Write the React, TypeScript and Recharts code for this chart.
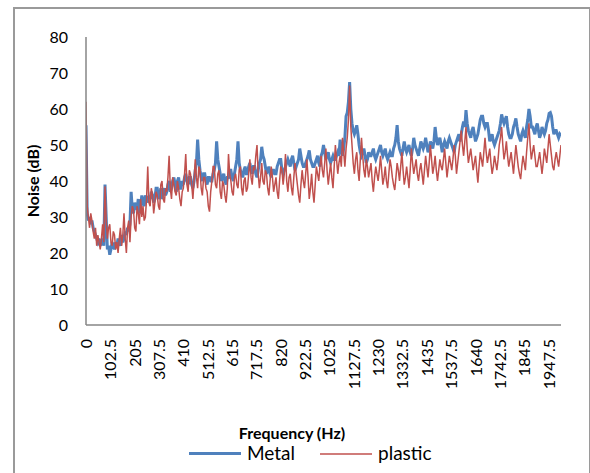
import React from 'react';
import { LineChart, Line, XAxis, YAxis, Legend } from 'recharts';

const FREQ = [
  0, 5, 10, 15, 20, 25, 30, 35, 40, 45, 50, 55, 60, 65, 70, 75, 80, 85, 90, 95,
  100, 105, 110, 115, 120, 125, 130, 135, 140, 145, 150, 155, 160, 165, 170, 175, 180, 185, 190, 195,
  200, 205, 210, 215, 220, 225, 230, 235, 240, 245, 250, 255, 260, 265, 270, 275, 280, 285, 290, 295,
  300, 305, 310, 315, 320, 325, 330, 335, 340, 345, 350, 355, 360, 365, 370, 375, 380, 385, 390, 395,
  400, 405, 410, 415, 420, 425, 430, 435, 440, 445, 450, 455, 460, 465, 470, 475, 480, 485, 490, 495,
  500, 505, 510, 515, 520, 525, 530, 535, 540, 545, 550, 555, 560, 565, 570, 575, 580, 585, 590, 595,
  600, 605, 610, 615, 620, 625, 630, 635, 640, 645, 650, 655, 660, 665, 670, 675, 680, 685, 690, 695,
  700, 705, 710, 715, 720, 725, 730, 735, 740, 745, 750, 755, 760, 765, 770, 775, 780, 785, 790, 795,
  800, 805, 810, 815, 820, 825, 830, 835, 840, 845, 850, 855, 860, 865, 870, 875, 880, 885, 890, 895,
  900, 905, 910, 915, 920, 925, 930, 935, 940, 945, 950, 955, 960, 965, 970, 975, 980, 985, 990, 995,
  1000, 1005, 1010, 1015, 1020, 1025, 1030, 1035, 1040, 1045, 1050, 1055, 1060, 1065, 1070, 1075, 1080, 1085, 1090, 1095,
  1100, 1105, 1110, 1115, 1120, 1125, 1130, 1135, 1140, 1145, 1150, 1155, 1160, 1165, 1170, 1175, 1180, 1185, 1190, 1195,
  1200, 1205, 1210, 1215, 1220, 1225, 1230, 1235, 1240, 1245, 1250, 1255, 1260, 1265, 1270, 1275, 1280, 1285, 1290, 1295,
  1300, 1305, 1310, 1315, 1320, 1325, 1330, 1335, 1340, 1345, 1350, 1355, 1360, 1365, 1370, 1375, 1380, 1385, 1390, 1395,
  1400, 1405, 1410, 1415, 1420, 1425, 1430, 1435, 1440, 1445, 1450, 1455, 1460, 1465, 1470, 1475, 1480, 1485, 1490, 1495,
  1500, 1505, 1510, 1515, 1520, 1525, 1530, 1535, 1540, 1545, 1550, 1555, 1560, 1565, 1570, 1575, 1580, 1585, 1590, 1595,
  1600, 1605, 1610, 1615, 1620, 1625, 1630, 1635, 1640, 1645, 1650, 1655, 1660, 1665, 1670, 1675, 1680, 1685, 1690, 1695,
  1700, 1705, 1710, 1715, 1720, 1725, 1730, 1735, 1740, 1745, 1750, 1755, 1760, 1765, 1770, 1775, 1780, 1785, 1790, 1795,
  1800, 1805, 1810, 1815, 1820, 1825, 1830, 1835, 1840, 1845, 1850, 1855, 1860, 1865, 1870, 1875, 1880, 1885, 1890, 1895,
  1900, 1905, 1910, 1915, 1920, 1925, 1930, 1935, 1940, 1945, 1950, 1955, 1960, 1965, 1970, 1975, 1980, 1985, 1990, 1995,
  2000,
];

const METAL = [
  55.5, 31, 29, 30, 28, 29, 27, 26, 25, 24, 23, 24, 22, 23, 24, 22, 39, 30, 21, 22,
  19.5, 21, 23, 22, 21, 23, 22, 24, 23, 22, 25, 23, 24, 26, 25, 27, 26, 28, 37, 32,
  31, 34, 33, 32, 35, 31, 33, 36, 34, 33, 36, 35, 34, 36, 35, 37, 36, 34, 35, 38,
  38, 35, 36, 38, 35, 37, 38, 36, 37, 39, 40, 37, 38, 40, 41, 39, 37, 40, 41, 38,
  38, 40, 39, 41, 42, 40, 39, 41, 41, 39, 38, 40, 43, 45, 51.5, 46, 43, 41, 40, 42,
  42, 40, 39, 41, 41, 40, 40, 42, 43, 45, 51, 46, 44, 42, 40, 41, 42, 40, 39, 41,
  41, 43, 43, 41, 40, 42, 44, 46, 51, 45, 43, 42, 41, 43, 44, 42, 42, 44, 45, 43,
  42, 44, 44, 42, 41, 43, 45, 46, 49.5, 47, 46, 44, 42, 43, 44, 42, 41, 43, 43, 42,
  42, 44, 45, 46, 46, 43, 42, 43, 44, 45, 46, 45, 44, 46, 47, 45, 43, 44, 45, 46,
  49, 47, 45, 44, 44, 45, 46, 47, 48.5, 46, 45, 44, 44, 45, 46, 47, 45, 44, 47, 48,
  50, 48, 46, 47, 48, 46, 45, 46, 47, 46, 46, 47, 48, 47, 51.5, 49, 47, 49, 52, 58,
  59, 62, 67.5, 60, 56, 54, 53, 54, 55.5, 53, 50, 48, 47, 48, 49, 47, 45, 46, 48, 47,
  47, 48, 49, 47, 46, 47, 48, 49, 50, 48, 47, 48, 49, 47, 46, 47, 48, 47, 47, 49,
  50, 52, 55.5, 51, 49, 48, 47, 49, 51, 49, 48, 49, 50, 48, 47, 49, 52, 50, 49, 48,
  47, 49, 51, 50, 49, 50, 52, 50, 48, 49, 51, 50, 49, 51, 55, 52, 50, 51, 52, 50,
  48, 50, 51, 50, 49, 51, 52, 51, 50, 49, 48, 50, 51, 52, 53, 51, 53, 55, 56.5, 55,
  59.7, 56, 54, 53, 52, 54, 55, 53, 51, 52, 53, 55, 57, 58, 58, 56, 55, 56, 56, 54,
  51, 52, 53, 51, 50, 51, 52, 53, 54, 56, 58.5, 57, 56, 57, 58, 55, 53, 52, 52, 53,
  55, 56, 57.4, 55, 53, 52, 51, 53, 54, 53, 52, 55, 57, 60, 58, 55, 55, 54, 53, 55,
  56, 54, 52, 53, 55, 54, 53, 54, 56, 57, 58.8, 59, 58, 55, 53, 54, 54, 53, 52, 53,
  52.5,
];

const PLASTIC = [
  62, 33, 30, 27, 31, 29, 26, 24, 27, 22, 25, 23, 21, 24, 28, 23, 38.5, 29, 24, 27,
  28, 23, 22, 26, 25, 21, 23, 20, 24, 27, 22, 25, 31, 24, 20, 27, 29, 23, 30, 33,
  32, 27, 26, 33, 31, 28, 35, 30, 33, 29, 30, 35, 44, 34, 33, 38, 36, 31, 34, 37,
  36, 33, 32, 39, 40, 35, 34, 38, 37, 41, 47, 38, 35, 41, 39, 37, 36, 40, 38, 35,
  33, 37, 38, 42, 47.5, 39, 37, 43, 42, 39, 35, 40, 46, 41, 38, 44, 43, 38, 36, 41,
  41, 38, 37, 33, 31.5, 37, 40, 44, 44, 39, 38, 42, 43, 37, 35, 40, 39, 36, 34, 38,
  47.5, 42, 40, 37, 36, 41, 42, 39, 38, 43, 44, 38, 36, 40, 41, 37, 38, 42, 46, 41,
  39, 44, 43, 47, 50, 42, 38, 41, 45, 40, 39, 43, 42, 38, 36, 40, 44, 41, 37, 39,
  41, 37, 35, 40, 44, 43, 39, 42, 47.5, 40, 37, 41, 42, 38, 36, 41, 45, 42, 39, 36,
  34, 39, 43, 40, 38, 42, 46, 41, 35, 38, 42, 37, 34, 39, 44, 42, 40, 44, 47, 43,
  41, 45, 49, 43, 39, 42, 45, 41, 38, 44, 50, 46, 42, 45, 47, 44, 52, 48, 44, 49,
  52, 57, 66.5, 55, 50, 45, 42, 46, 48, 43, 40, 46, 52, 47, 43, 41, 46, 44, 41, 43,
  45, 40, 37, 41, 44, 42, 40, 43, 47, 43, 39, 41, 44, 40, 38, 42, 46, 44, 41, 39,
  37.5, 41, 45, 43, 40, 44, 48, 43, 39, 41, 44, 41, 38, 43, 49, 45, 42, 44, 46, 42,
  40, 43, 45, 42, 39, 43, 47, 44, 41, 45, 50, 46, 42, 44, 47, 43, 40, 43, 46, 44,
  43, 46, 49, 45, 41, 44, 47, 45, 43, 46, 50, 47, 42, 45, 48, 51, 54, 50, 47, 51,
  55, 49, 45, 47, 49, 46, 43, 45, 47, 43, 39.5, 44, 48, 46, 44, 48, 52, 48, 45, 47,
  49, 45, 42, 44, 47, 45, 43, 46, 50, 52, 55, 50, 46, 48, 51, 47, 44, 46, 48, 45,
  42, 46, 50, 47, 44, 42, 40.5, 44, 47, 45, 43, 48, 52, 56, 50, 46, 48, 50, 47, 44,
  44, 46, 48, 45, 42, 45, 49, 47, 45, 49, 53, 50, 47, 44, 43, 46, 48, 46, 44, 47,
  50,
];

const X_TICKS = [
  0, 102.5, 205, 307.5, 410, 512.5, 615, 717.5, 820, 922.5, 1025, 1127.5, 1230, 1332.5,
  1435, 1537.5, 1640, 1742.5, 1845, 1947.5,
];
const Y_TICKS = [0, 10, 20, 30, 40, 50, 60, 70, 80];

const SERIES_NAMES = ['Metal', 'plastic'];
const X_TITLE = 'Frequency (Hz)';
const Y_TITLE = 'Noise (dB)';

const data = FREQ.map((f, i) => ({ f, metal: METAL[i], plastic: PLASTIC[i] }));

const FONT = 'Lato, "DejaVu Sans", sans-serif';
const BLUE = '#4F81BD';
const RED = '#C0504D';
const AXIS = '#868686';

const XTick = (props: any) => {
  const { x, y, payload } = props;
  const tx = x + 6;
  const ty = y + 14;
  return (
    <text
      x={tx}
      y={ty}
      transform={`rotate(-90 ${tx} ${ty})`}
      textAnchor="end"
      fontSize={16}
      fontFamily={FONT}
      fill="#000"
    >
      {String(payload.value)}
    </text>
  );
};

const LegendContent = () => (
  <div style={{ position: 'relative', width: 590, height: 24, fontFamily: FONT }}>
    <div style={{ position: 'absolute', left: 189, top: 11, width: 52, height: 3, background: BLUE }} />
    <div style={{ position: 'absolute', left: 247, top: 0, fontSize: 19, lineHeight: '24px', color: '#000' }}>
      {SERIES_NAMES[0]}
    </div>
    <div style={{ position: 'absolute', left: 320, top: 12, width: 52, height: 1.5, background: RED, opacity: 0.75 }} />
    <div style={{ position: 'absolute', left: 378, top: 0, fontSize: 19, lineHeight: '24px', color: '#000' }}>
      {SERIES_NAMES[1]}
    </div>
  </div>
);

export default function App() {
  return (
    <div style={{ position: 'absolute', left: 0, top: 0, width: 590, height: 473, background: '#fff', overflow: 'hidden' }}>
      <div
        style={{
          position: 'absolute',
          left: 13,
          top: 7,
          width: 574,
          height: 480,
          border: '2px solid #9a9a9a',
        }}
      />
      <LineChart
        width={590}
        height={473}
        data={data}
        margin={{ top: 37, right: 29, left: 0, bottom: 44 }}
        style={{ position: 'absolute', left: 0, top: 0 }}
      >
        <XAxis
          type="number"
          dataKey="f"
          domain={[0, 2000]}
          ticks={X_TICKS}
          interval={0}
          tickLine={false}
          tickSize={0}
          tickMargin={0}
          axisLine={{ stroke: AXIS, strokeWidth: 1.5 }}
          tick={<XTick />}
          height={80}
          allowDataOverflow
        />
        <YAxis
          type="number"
          domain={[0, 80]}
          ticks={Y_TICKS}
          interval={0}
          width={86}
          tickLine={false}
          tickSize={6}
          tickMargin={12}
          axisLine={{ stroke: AXIS, strokeWidth: 1.5 }}
          tick={{ fontSize: 16, fill: '#000', fontFamily: FONT }}
        />
        <Legend
          content={<LegendContent />}
          wrapperStyle={{ position: 'absolute', left: 0, top: 441, width: 590, height: 24 }}
        />
        <Line
          type="linear"
          dataKey="metal"
          name={SERIES_NAMES[0]}
          stroke={BLUE}
          strokeWidth={3}
          dot={false}
          isAnimationActive={false}
        />
        <Line
          type="linear"
          dataKey="plastic"
          name={SERIES_NAMES[1]}
          stroke={RED}
          strokeWidth={1.5}
          dot={false}
          isAnimationActive={false}
        />
      </LineChart>
      <div
        style={{
          position: 'absolute',
          left: 192,
          top: 422,
          width: 200,
          textAlign: 'center',
          fontFamily: FONT,
          fontWeight: 700,
          fontSize: 16,
          lineHeight: '22px',
          color: '#000',
        }}
      >
        {X_TITLE}
      </div>
      <div
        style={{
          position: 'absolute',
          left: 33 - 100,
          top: 181 - 11,
          width: 200,
          textAlign: 'center',
          fontFamily: FONT,
          fontWeight: 700,
          fontSize: 16,
          lineHeight: '22px',
          color: '#000',
          transform: 'rotate(-90deg)',
        }}
      >
        {Y_TITLE}
      </div>
    </div>
  );
}
